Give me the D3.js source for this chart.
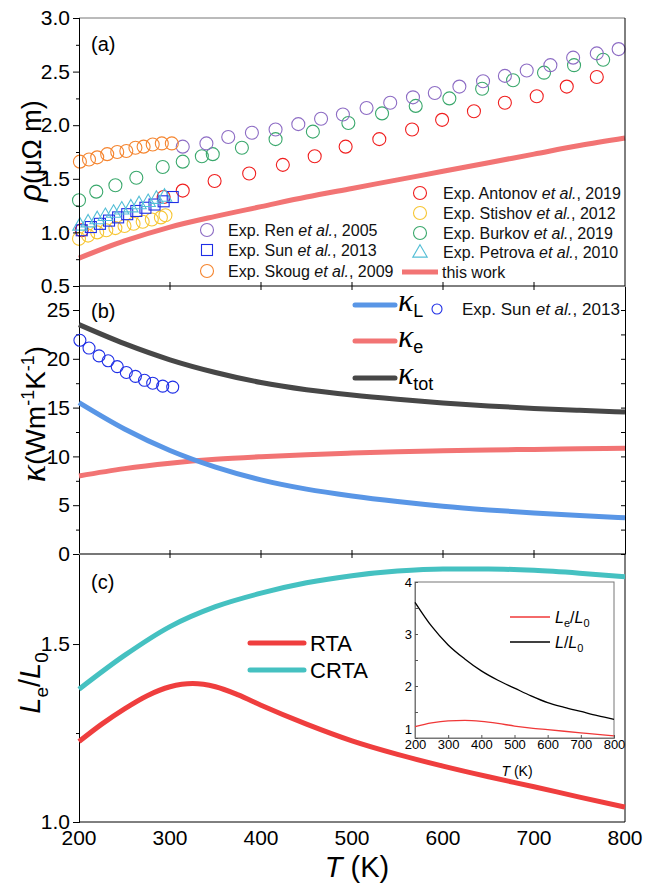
<!DOCTYPE html>
<html><head><meta charset="utf-8">
<script src="https://cdn.jsdelivr.net/npm/d3@7"></script>
<style>
body{margin:0;background:#fff;}
svg{font-family:Arial,"Liberation Sans",sans-serif;}
</style></head>
<body><svg id="c" width="646" height="884"></svg>
<script>
// ---------- DATA ----------
// Panel (a): resistivity (μΩ m)
const thisWorkT   = [200,250,300,350,400,450,500,550,600,650,700,750,800];
const thisWorkRho = [0.76,0.92,1.05,1.15,1.24,1.33,1.41,1.49,1.57,1.65,1.73,1.81,1.88];

const renT   = [314,340,364,390,416,441,466,490,516,542,567,591,618,644,668,692,718,743,769,793];
const renRho = [1.80,1.83,1.89,1.93,1.96,2.01,2.06,2.10,2.16,2.21,2.26,2.30,2.36,2.41,2.46,2.51,2.56,2.63,2.67,2.71];

const antonovT   = [203,293,314,349,387,424,459,493,530,566,599,634,668,703,736,769];
const antonovRho = [1.02,1.33,1.39,1.48,1.55,1.63,1.71,1.80,1.87,1.96,2.05,2.13,2.21,2.27,2.36,2.45];

const burkovT   = [200,219,240,263,292,314,335,347,379,416,457,496,533,570,607,643,677,711,744,776];
const burkovRho = [1.30,1.38,1.44,1.51,1.61,1.66,1.71,1.73,1.79,1.87,1.94,2.02,2.11,2.18,2.25,2.34,2.42,2.49,2.56,2.61];

const skougT   = [201,211,220,231,242,252,262,271,281,291,302];
const skougRho = [1.66,1.68,1.70,1.73,1.75,1.76,1.79,1.80,1.82,1.83,1.83];

const stishovT   = [200,210,220,230,240,250,260,270,280,290,295];
const stishovRho = [0.94,0.97,1.00,1.02,1.04,1.06,1.08,1.10,1.12,1.14,1.16];

const sunT   = [203,213,223,233,243,253,263,273,283,293,303];
const sunRho = [1.02,1.05,1.08,1.11,1.14,1.17,1.20,1.23,1.26,1.29,1.33];

const petrovaT   = [201,210,220,229,238,247,257,266,276,285,294];
const petrovaRho = [1.06,1.09,1.12,1.15,1.18,1.21,1.23,1.26,1.28,1.31,1.33];

// Panel (b): thermal conductivity (W m^-1 K^-1)
const kT       = [200,250,300,350,400,450,500,550,600,650,700,750,800];
const kappaL   = [15.5,12.8,10.6,8.9,7.6,6.65,5.95,5.38,4.9,4.52,4.2,3.94,3.72];
const kappaE   = [8.0,8.75,9.3,9.7,9.97,10.18,10.34,10.47,10.57,10.65,10.72,10.78,10.83];
const kappaTot = [23.5,21.55,19.9,18.6,17.57,16.83,16.29,15.85,15.47,15.17,14.92,14.72,14.55];

const sunKT = [201,211,222,232,242,252,262,272,281,292,303];
const sunK  = [21.9,21.1,20.3,19.8,19.2,18.6,18.2,17.8,17.5,17.2,17.1];

// Panel (c): Lorenz ratio
const rtaT  = [200,225,250,275,300,325,350,375,400,450,500,550,600,650,700,750,800];
const rta   = [1.226,1.275,1.318,1.355,1.380,1.389,1.380,1.357,1.328,1.275,1.228,1.190,1.157,1.127,1.099,1.070,1.042];
const crtaT = [200,250,300,350,400,450,500,550,600,650,700,750,800];
const crta  = [1.373,1.468,1.549,1.605,1.643,1.672,1.692,1.705,1.711,1.711,1.707,1.699,1.689];

// Inset: L/L0 and Le/L0
const insetT  = [200,250,300,350,400,450,500,550,600,650,700,750,800];
const LoverL0 = [3.61,3.15,2.79,2.52,2.29,2.11,1.96,1.81,1.68,1.59,1.51,1.43,1.36];
const LeoverL0= [1.22,1.29,1.33,1.34,1.32,1.28,1.23,1.19,1.16,1.13,1.10,1.07,1.04];

// Tick labels
const xTicks = [200,300,400,500,600,700,800];
const aTicks = [0.5,1.0,1.5,2.0,2.5,3.0];
const bTicks = [0,5,10,15,20,25];
const cTicks = [1.0,1.5];
const insetXTicks = [200,300,400,500,600,700,800];
const insetYTicks = [1,2,3,4];

// ---------- DRAW ----------
const svg = d3.select("#c");
const X0=79, X1=625;
const x = d3.scaleLinear().domain([200,800]).range([X0,X1]);
const ya = d3.scaleLinear().domain([0.5,3.0]).range([286,18]);
const yb = d3.scaleLinear().domain([0,27.46]).range([554,286]);
const yc = d3.scaleLinear().domain([1.0,1.753]).range([822,554]);

const C = {
  this:"#f27474", ren:"#8d6cc4", anton:"#f01e1e", burk:"#3aa86c", skoug:"#f5852f",
  stish:"#f7c634", sun:"#1f2fe6", petr:"#53bed6", kL:"#5996e6", kE:"#f27474", kT:"#474747",
  rta:"#ef3e3e", crta:"#45c1c1"
};
const tickFont = 21;
const greek = "'Liberation Serif',serif";

function zip(a,b){return a.map((d,i)=>[d,b[i]]);}

// ===== Panel (a) =====
const ga = svg.append("g");
ga.append("path").datum(zip(thisWorkT,thisWorkRho))
  .attr("d", d3.line().x(d=>x(d[0])).y(d=>ya(d[1])).curve(d3.curveMonotoneX))
  .attr("fill","none").attr("stroke",C.this).attr("stroke-width",5);

function circles(g,T,V,col,ys,r){
  g.selectAll(null).data(zip(T,V)).enter().append("circle")
   .attr("cx",d=>x(d[0])).attr("cy",d=>ys(d[1])).attr("r",r)
   .attr("fill","none").attr("stroke",col).attr("stroke-width",1.1);
}
circles(ga,antonovT,antonovRho,C.anton,ya,6.5);
circles(ga,burkovT,burkovRho,C.burk,ya,6.5);
circles(ga,renT,renRho,C.ren,ya,6.5);
circles(ga,stishovT,stishovRho,C.stish,ya,6.5);
circles(ga,skougT,skougRho,C.skoug,ya,6.5);
ga.selectAll(null).data(zip(sunT,sunRho)).enter().append("rect")
  .attr("x",d=>x(d[0])-5.5).attr("y",d=>ya(d[1])-5.5).attr("width",11).attr("height",11)
  .attr("fill","none").attr("stroke",C.sun).attr("stroke-width",1.1);
const tri = d3.symbol().type(d3.symbolTriangle).size(90);
ga.selectAll(null).data(zip(petrovaT,petrovaRho)).enter().append("path")
  .attr("d",tri).attr("transform",d=>`translate(${x(d[0])},${ya(d[1])})`)
  .attr("fill","none").attr("stroke",C.petr).attr("stroke-width",1.1);

// frame a
svg.append("line").attr("x1",X0).attr("x2",X1).attr("y1",18).attr("y2",18).attr("stroke","#777").attr("stroke-width",1);
svg.append("line").attr("x1",X1).attr("x2",X1).attr("y1",18).attr("y2",286).attr("stroke","#000").attr("stroke-width",1);

// left axes
function leftAxis(ys, ticks, minor, fmt){
  const g = svg.append("g").attr("transform",`translate(${X0},0)`);
  g.call(d3.axisLeft(ys).tickValues(minor).tickSize(3).tickFormat(""));
  const g2 = svg.append("g").attr("transform",`translate(${X0},0)`);
  g2.call(d3.axisLeft(ys).tickValues(ticks).tickSize(6).tickPadding(3).tickFormat(fmt));
  [g,g2].forEach(gg=>{gg.selectAll("path").attr("stroke","#000");gg.selectAll("line").attr("stroke","#000");});
  g2.selectAll("text").attr("font-size",tickFont).attr("fill","#000").attr("font-family","Arial, Liberation Sans");
  return g2;
}
leftAxis(ya, aTicks, d3.range(0.75,3.0,0.5), d3.format(".1f"));
leftAxis(yb, bTicks, d3.range(2.5,27,5), d3.format("d"));
leftAxis(yc, cTicks, [1.25], d3.format(".1f"));

// internal boundary lines with crossing ticks
function boundary(y, col, w){
  svg.append("line").attr("x1",X0).attr("x2",X1).attr("y1",y).attr("y2",y).attr("stroke",col).attr("stroke-width",w);
  svg.selectAll(null).data(xTicks.filter(t=>t>200&&t<800)).enter().append("line")
    .attr("x1",d=>x(d)).attr("x2",d=>x(d)).attr("y1",y-4).attr("y2",y+4).attr("stroke","#000").attr("stroke-width",1);
}
boundary(286,"#000",1);
boundary(554,"#777",2);

// panel b right axis with inward ticks
const gr = svg.append("g").attr("transform",`translate(${X1},0)`);
gr.call(d3.axisLeft(yb).tickValues(d3.range(0,27.5,2.5)).tickSize(4).tickSizeOuter(0).tickFormat(""));
gr.selectAll("path").attr("stroke","#000"); gr.selectAll("line").attr("stroke","#000");
// panel c right & bottom
svg.append("line").attr("x1",X1).attr("x2",X1).attr("y1",554).attr("y2",822).attr("stroke","#000");
svg.append("line").attr("x1",X0).attr("x2",X1).attr("y1",822).attr("y2",822).attr("stroke","#000");

// x tick labels
svg.selectAll(null).data(xTicks).enter().append("text")
  .attr("x",d=>x(d)).attr("y",845).attr("text-anchor","middle").attr("font-size",tickFont).text(d=>d);
// x title
const xt = svg.append("text").attr("x",357).attr("y",877).attr("text-anchor","middle").attr("font-size",29);
xt.append("tspan").attr("font-style","italic").text("T");
xt.append("tspan").text(" (K)");

// panel labels
svg.append("text").attr("x",91).attr("y",51).attr("font-size",20).text("(a)");
svg.append("text").attr("x",91).attr("y",318).attr("font-size",20).text("(b)");
svg.append("text").attr("x",91).attr("y",589).attr("font-size",20).text("(c)");

// y titles
const yta = svg.append("text").attr("transform","translate(41,151) rotate(-90)").attr("text-anchor","middle").attr("font-size",27);
yta.append("tspan").attr("font-style","italic").attr("font-size",31).text("ρ");
yta.append("tspan").text("(μΩ m)");

const ytb = svg.append("text").attr("transform","translate(45,414) rotate(-90)").attr("text-anchor","middle").attr("font-size",28);
ytb.append("tspan").attr("font-style","italic").attr("font-family",greek).attr("font-size",36).text("κ");
ytb.append("tspan").text("(Wm");
ytb.append("tspan").attr("font-size",18).attr("dy",-11).text("-1");
ytb.append("tspan").attr("dy",11).text("K");
ytb.append("tspan").attr("font-size",18).attr("dy",-11).text("-1");
ytb.append("tspan").attr("dy",11).text(")");

const ytc = svg.append("text").attr("transform","translate(40,683) rotate(-90)").attr("text-anchor","middle").attr("font-size",29);
ytc.append("tspan").attr("font-style","italic").text("L");
ytc.append("tspan").attr("font-size",19).attr("dy",8).text("e");
ytc.append("tspan").attr("dy",-8).text("/");
ytc.append("tspan").attr("font-style","italic").text("L");
ytc.append("tspan").attr("font-size",19).attr("dy",8).text("0");

// legend a
function expLabel(g, xx, yy, name, year, fs){
  const t = g.append("text").attr("x",xx).attr("y",yy+5.5).attr("font-size",fs||16).attr("fill","#111");
  t.append("tspan").text("Exp. "+name+" ");
  t.append("tspan").attr("font-style","italic").text("et al.");
  t.append("tspan").text(", "+year);
}
const la = svg.append("g");
function legCircle(cx,cy,col,r){la.append("circle").attr("cx",cx).attr("cy",cy).attr("r",r).attr("fill","none").attr("stroke",col).attr("stroke-width",1.1);}
legCircle(207,230,C.ren,6.5); expLabel(la,228,230,"Ren","2005");
la.append("rect").attr("x",201.5).attr("y",244.5).attr("width",11).attr("height",11).attr("fill","none").attr("stroke",C.sun).attr("stroke-width",1.1);
expLabel(la,228,250,"Sun","2013");
legCircle(207,271,C.skoug,6.5); expLabel(la,228,271,"Skoug","2009");
legCircle(420,193,C.anton,6.5); expLabel(la,443,193,"Antonov","2019");
legCircle(420,213,C.stish,6.5); expLabel(la,443,213,"Stishov","2012");
legCircle(420,233,C.burk,6.5); expLabel(la,443,233,"Burkov","2019");
la.append("path").attr("d",tri).attr("transform","translate(420,253)").attr("fill","none").attr("stroke",C.petr).attr("stroke-width",1.1);
expLabel(la,443,252,"Petrova","2010");
la.append("line").attr("x1",402).attr("x2",438).attr("y1",272).attr("y2",272).attr("stroke",C.this).attr("stroke-width",5);
la.append("text").attr("x",442).attr("y",277.5).attr("font-size",16).attr("fill","#111").text("this work");

// ===== Panel (b) =====
const lineB = d3.line().x(d=>x(d[0])).y(d=>yb(d[1])).curve(d3.curveMonotoneX);
svg.append("path").datum(zip(kT,kappaE)).attr("d",lineB).attr("fill","none").attr("stroke",C.kE).attr("stroke-width",5);
svg.append("path").datum(zip(kT,kappaL)).attr("d",lineB).attr("fill","none").attr("stroke",C.kL).attr("stroke-width",5);
svg.append("path").datum(zip(kT,kappaTot)).attr("d",lineB).attr("fill","none").attr("stroke",C.kT).attr("stroke-width",5);
circles(svg,sunKT,sunK,C.sun,yb,6);

// legend b
const lb = svg.append("g");
[[305,C.kL,"L"],[341,C.kE,"e"],[378,C.kT,"tot"]].forEach(([yy,col,sub])=>{
  lb.append("line").attr("x1",355).attr("x2",395).attr("y1",yy).attr("y2",yy).attr("stroke",col).attr("stroke-width",5).attr("stroke-linecap","round");
  const t = lb.append("text").attr("x",398).attr("y",yy+6).attr("font-size",32);
  t.append("tspan").attr("font-style","italic").attr("font-family",greek).text("κ");
  t.append("tspan").attr("font-size",18).attr("dy",6).text(sub);
});
lb.append("circle").attr("cx",437).attr("cy",309).attr("r",5).attr("fill","none").attr("stroke",C.sun).attr("stroke-width",1.1);
expLabel(lb,462,309,"Sun","2013",17);

// ===== Panel (c) =====
const lineC = d3.line().x(d=>x(d[0])).y(d=>yc(d[1])).curve(d3.curveMonotoneX);
svg.append("path").datum(zip(crtaT,crta)).attr("d",lineC).attr("fill","none").attr("stroke",C.crta).attr("stroke-width",5);
svg.append("path").datum(zip(rtaT,rta)).attr("d",lineC).attr("fill","none").attr("stroke",C.rta).attr("stroke-width",5);

const lc = svg.append("g");
[[643,C.rta,"RTA"],[670,C.crta,"CRTA"]].forEach(([yy,col,lab])=>{
  lc.append("line").attr("x1",250).attr("x2",304).attr("y1",yy).attr("y2",yy).attr("stroke",col).attr("stroke-width",5).attr("stroke-linecap","round");
  lc.append("text").attr("x",310).attr("y",yy+8).attr("font-size",22).text(lab);
});

// ===== Inset =====
const xi = d3.scaleLinear().domain([200,800]).range([415,614]);
const yi = d3.scaleLinear().domain([1,4]).range([738,582]);
svg.append("rect").attr("x",415).attr("y",582).attr("width",199).attr("height",156).attr("fill","#fff").attr("stroke","#777").attr("stroke-width",1);
const gix = svg.append("g").attr("transform","translate(0,738)");
gix.call(d3.axisBottom(xi).tickValues(insetXTicks).tickSize(-3).tickPadding(2).tickFormat(d3.format("d")));
const giy = svg.append("g").attr("transform","translate(415,0)");
giy.call(d3.axisLeft(yi).tickValues(d3.range(1,4.01,0.5)).tickSize(-3).tickPadding(3).tickFormat(d=>Number.isInteger(d)?d:""));
[gix,giy].forEach(g=>{g.select("path").attr("stroke","#777");g.selectAll("line").attr("stroke","#555");
  g.selectAll("text").attr("font-size",13).attr("fill","#000").attr("font-family","Arial, Liberation Sans");});
giy.selectAll(".tick text").filter(d=>d===1).attr("dy","-0.35em");
const lineI = d3.line().x(d=>xi(d[0])).y(d=>yi(d[1])).curve(d3.curveMonotoneX);
svg.append("path").datum(zip(insetT,LoverL0)).attr("d",lineI).attr("fill","none").attr("stroke","#000").attr("stroke-width",1.3);
svg.append("path").datum(zip(insetT,LeoverL0)).attr("d",lineI).attr("fill","none").attr("stroke","#f03838").attr("stroke-width",1.3);
const ixt = svg.append("text").attr("x",517).attr("y",776).attr("text-anchor","middle").attr("font-size",14);
ixt.append("tspan").attr("font-style","italic").text("T");
ixt.append("tspan").text(" (K)");
[[617,"#f03838","e"],[642,"#000",""]].forEach(([yy,col,sub])=>{
  svg.append("line").attr("x1",510).attr("x2",550).attr("y1",yy).attr("y2",yy).attr("stroke",col).attr("stroke-width",1.3);
  const t = svg.append("text").attr("x",555).attr("y",yy+6).attr("font-size",16);
  t.append("tspan").attr("font-style","italic").text("L");
  if(sub){t.append("tspan").attr("font-size",11).attr("dy",4).text(sub); t.append("tspan").attr("dy",-4).text("/");}
  else t.append("tspan").text("/");
  t.append("tspan").attr("font-style","italic").text("L");
  t.append("tspan").attr("font-size",11).attr("dy",4).text("0");
});
</script></body></html>
